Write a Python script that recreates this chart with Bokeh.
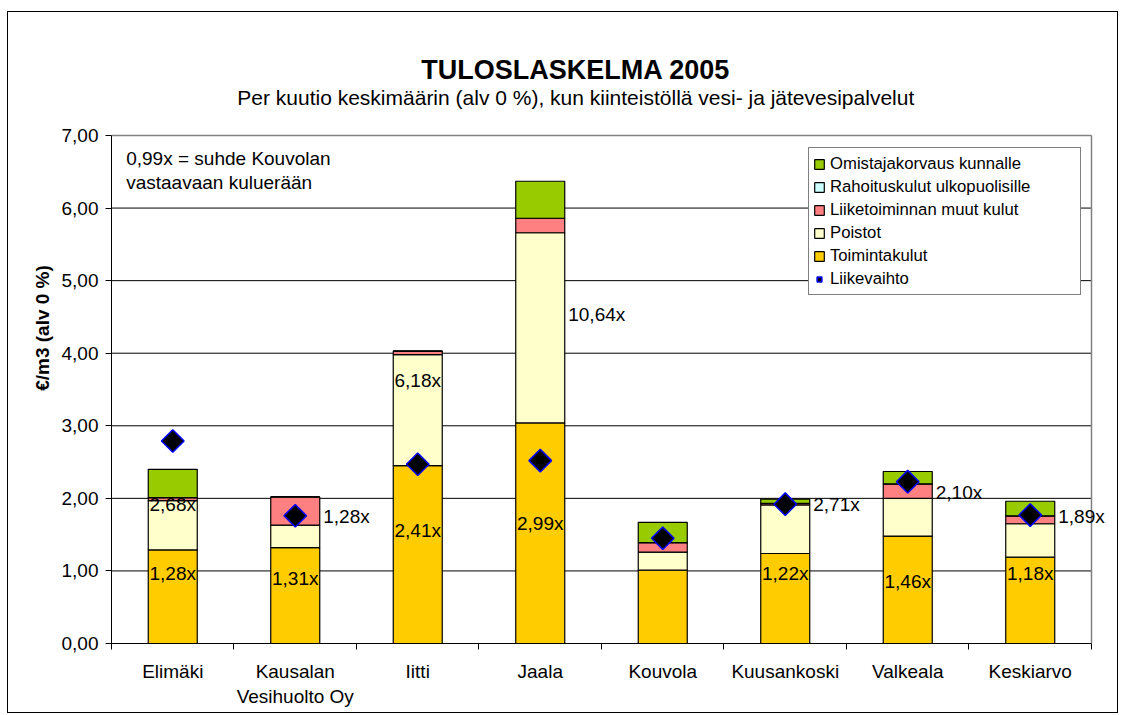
import numpy as np
from bokeh.plotting import figure
from bokeh.models import (ColumnDataSource, FixedTicker, Legend, LegendItem,
                          Range1d, Label, LabelSet)
from bokeh.embed import file_html
from bokeh.resources import INLINE
from bokeh.core.properties import value

FONT = "Liberation Sans"

# ---------------- data ----------------
categories = ["Elimäki", "Kausalan\nVesihuolto Oy", "Iitti", "Jaala",
              "Kouvola", "Kuusankoski", "Valkeala", "Keskiarvo"]
toimintakulut = [1.29, 1.32, 2.45, 3.04, 1.01, 1.24, 1.48, 1.19]
poistot = [0.68, 0.31, 1.53, 2.62, 0.25, 0.67, 0.52, 0.46]
liiketoiminnan_muut = [0.04, 0.39, 0.05, 0.20, 0.13, 0.02, 0.20, 0.11]
rahoituskulut = [0.0, 0.0, 0.0, 0.0, 0.0, 0.0, 0.0, 0.0]
omistajakorvaus = [0.39, 0.0, 0.0, 0.51, 0.28, 0.06, 0.17, 0.20]
liikevaihto = [2.79, 1.76, 2.47, 2.52, 1.45, 1.92, 2.23, 1.77]

series_names = ["Toimintakulut", "Poistot", "Liiketoiminnan muut kulut",
                "Rahoituskulut ulkopuolisille", "Omistajakorvaus kunnalle"]
line_name = "Liikevaihto"

# ratio labels (relative to Kouvola)
toiminta_ratio = ["1,28x", "1,31x", "2,41x", "2,99x", "", "1,22x", "1,46x", "1,18x"]
toiminta_ratio_y = [0.97, 0.89, 1.56, 1.66, 0.0, 0.96, 0.86, 0.96]
poistot_ratio = ["2,68x", "1,28x", "6,18x", "10,64x", "", "2,71x", "2,10x", "1,89x"]
poistot_ratio_y = [1.91, 1.75, 3.63, 4.53, 0.0, 1.91, 2.08, 1.75]
poistot_ratio_outside = [False, True, False, True, False, True, True, True]

y_ticks = [0, 1, 2, 3, 4, 5, 6, 7]
y_tick_labels = ["0,00", "1,00", "2,00", "3,00", "4,00", "5,00", "6,00", "7,00"]

title_text = "TULOSLASKELMA 2005"
subtitle_text = "Per kuutio keskimäärin (alv 0 %), kun kiinteistöllä vesi- ja jätevesipalvelut"
y_label = "€/m3 (alv 0 %)"
note_text = "0,99x = suhde Kouvolan\nvastaavaan kuluerään"

colors = ["#FFCC00", "#FFFFCC", "#FF8080", "#CCFFFF", "#99CC00"]

# ---------------- build ----------------
n = len(categories)
xc = [i + 0.5 for i in range(n)]
keys = ["toim", "poist", "liike", "rah", "omis"]
src = ColumnDataSource(dict(x=xc, toim=toimintakulut, poist=poistot,
                            liike=liiketoiminnan_muut, rah=rahoituskulut,
                            omis=omistajakorvaus, lv=liikevaihto))

YMAX = y_ticks[-1]
# the frame is extended above and to the right so that the titles and the
# outside ratio labels can be drawn inside it; the visible plot area is 0..n x 0..YMAX
Y_TOP = YMAX + 1.695
X_RIGHT = n + 0.196
p = figure(width=1111, height=702, x_range=Range1d(0, X_RIGHT), y_range=Range1d(0, Y_TOP),
           output_backend="svg", toolbar_location=None,
           min_border_left=103, min_border_right=4,
           min_border_top=0, min_border_bottom=71)
p.styles = {"border": "1px solid black", "margin-left": "7px", "margin-top": "11px"}
p.background_fill_color = "white"
p.border_fill_color = "white"
p.outline_line_color = None

# titles
p.add_layout(Label(x=3.79, y=YMAX + 0.896, text=title_text, text_font=FONT,
                   text_font_size="27px", text_font_style="bold",
                   text_align="center", text_baseline="middle", text_color="black"))
p.add_layout(Label(x=3.79, y=YMAX + 0.524, text=subtitle_text, text_font=FONT,
                   text_font_size="21px", text_align="center",
                   text_baseline="middle", text_color="black"))

# axes
p.yaxis.ticker = FixedTicker(ticks=y_ticks)
p.yaxis.bounds = (0, YMAX)
p.yaxis.major_label_overrides = {t: l for t, l in zip(y_ticks, y_tick_labels)}
p.yaxis.major_label_text_font = FONT
p.yaxis.major_label_text_font_size = "19px"
p.yaxis.major_label_text_color = "black"
p.yaxis.major_tick_in = 0
p.yaxis.major_tick_out = 6
p.yaxis.minor_tick_line_color = None
p.yaxis.major_label_standoff = 7
p.yaxis.axis_label = y_label
p.yaxis.axis_label_text_font = FONT
p.yaxis.axis_label_text_font_size = "19px"
p.yaxis.axis_label_text_font_style = "bold"
p.yaxis.axis_label_text_color = "black"
p.yaxis.axis_label_standoff = 6
p.yaxis.axis_line_color = "black"
p.yaxis.major_tick_line_color = "black"

p.xaxis.ticker = FixedTicker(ticks=xc, minor_ticks=list(range(n + 1)))
p.xaxis.bounds = (0, n)
p.xaxis.major_label_overrides = {x: c for x, c in zip(xc, categories)}
p.xaxis.major_label_text_font = FONT
p.xaxis.major_label_text_font_size = "19px"
p.xaxis.major_label_text_color = "black"
p.xaxis.major_tick_out = 0
p.xaxis.major_tick_in = 0
p.xaxis.major_tick_line_color = None
p.xaxis.minor_tick_out = 6
p.xaxis.minor_tick_in = 0
p.xaxis.minor_tick_line_color = "black"
p.xaxis.major_label_standoff = 11
p.xaxis.axis_line_color = "black"

p.xgrid.grid_line_color = None
p.ygrid.grid_line_color = None

# horizontal grid lines and plot-area border (limited to 0..n)
inner = y_ticks[1:-1]
p.segment(x0=[0] * len(inner), x1=[n] * len(inner), y0=inner, y1=inner,
          line_color="black", line_width=1)
p.segment(x0=[0, n], x1=[n, n], y0=[YMAX, 0], y1=[YMAX, YMAX],
          line_color="#808080", line_width=1.5)

# bars
bars = p.vbar_stack(keys, x="x", width=0.4, fill_color=colors,
                    line_color="black", line_width=1.2, source=src)

# liikevaihto markers
pts = p.scatter(x="x", y="lv", source=src, marker="square", angle=np.pi / 4,
                size=16, fill_color="black", line_color="#0000FF", line_width=1.5)

# ratio labels
def ratio_labels(texts, ys, keep, align, xoff):
    rows = [(x, t, y) for x, t, y, k in zip(xc, texts, ys, keep) if t and k]
    s = ColumnDataSource(dict(x=[r[0] for r in rows], y=[r[2] for r in rows],
                              t=[r[1] for r in rows]))
    p.add_layout(LabelSet(x="x", y="y", text="t", source=s, x_offset=xoff,
                          text_font=value(FONT), text_font_size="19px",
                          text_align=align, text_baseline="middle",
                          text_color="black"))

ratio_labels(toiminta_ratio, toiminta_ratio_y, [True] * n, "center", 0)
ratio_labels(poistot_ratio, poistot_ratio_y, [not o for o in poistot_ratio_outside], "center", 0)
ratio_labels(poistot_ratio, poistot_ratio_y, poistot_ratio_outside, "left", 28)

note = Label(x=0.12, y=6.83, text=note_text, text_font=FONT, text_font_size="19px",
             text_baseline="top", text_align="left", text_line_height=1.15,
             text_color="black")
p.add_layout(note)

# legend
order = [4, 3, 2, 1, 0]
items = [LegendItem(label=series_names[i], renderers=[bars[i]]) for i in order]
items.append(LegendItem(label=line_name, renderers=[pts]))
legend = Legend(items=items, location=(697, 348), margin=0, padding=4,
                spacing=0, label_height=23, glyph_height=12, glyph_width=12,
                label_standoff=5, label_text_font=FONT, label_text_font_size="16.7px",
                label_text_color="black",
                border_line_color="black", border_line_width=1,
                background_fill_color="white", background_fill_alpha=1.0,
                label_width=246)
p.add_layout(legend)

open("out.html", "w").write(file_html(p, INLINE))
